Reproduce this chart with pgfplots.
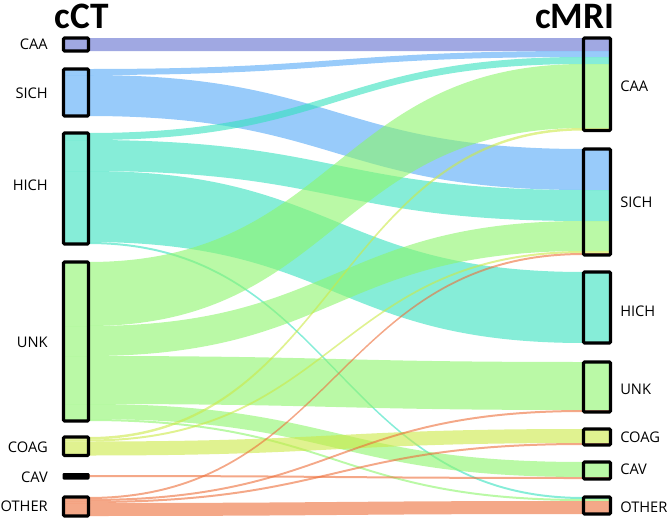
\documentclass[border=0pt]{standalone}
\usepackage{pgfplots}
\pgfplotsset{compat=1.18}
\usepackage{fontspec}
\setmainfont{Open Sans}
\newfontfamily\titlefont{Carlito}

\definecolor{cpurple}{RGB}{97,110,207}
\definecolor{cblue}{RGB}{83,168,247}
\definecolor{cteal}{RGB}{53,225,190}
\definecolor{cgreen}{RGB}{140,245,107}
\definecolor{cyellow}{RGB}{203,233,70}
\definecolor{corange}{RGB}{237,110,57}

% one link: left top, left bottom, right top, right bottom (pixel rows), colour
\newcommand{\flow}[5]{%
  \fill[#5, fill opacity=0.6] (axis cs:63.5,#1) -- (axis cs:88.5,#1)
    .. controls (axis cs:336,#1) and (axis cs:336,#3) .. (axis cs:583.5,#3)
    -- (axis cs:610.5,#3) -- (axis cs:610.5,#4) -- (axis cs:583.5,#4)
    .. controls (axis cs:336,#4) and (axis cs:336,#2) .. (axis cs:88.5,#2)
    -- (axis cs:63.5,#2) -- cycle;}
% node box: x left, x right, top, bottom
\newcommand{\nodebox}[4]{%
  \draw[black, line width=2.3pt, rounded corners=0.8pt] (axis cs:#1,#3) rectangle (axis cs:#2,#4);}

\begin{document}
\begin{tikzpicture}
\begin{axis}[name=ax, scale only axis, width=501.75pt, height=391.5pt,
  xmin=0, xmax=669, ymin=0, ymax=522, y dir=reverse, hide axis, clip=false]
  % links
  \flow{38}{51}{38}{51}{cpurple}
  \flow{69}{75}{51}{57}{cblue}
  \flow{75}{116}{149}{190}{cblue}
  \flow{133}{140}{57}{64}{cteal}
  \flow{140}{171}{190}{221}{cteal}
  \flow{171}{242}{272}{343}{cteal}
  \flow{242}{244}{497}{499}{cteal}
  \flow{262}{326}{64}{128}{cgreen}
  \flow{326}{356}{221}{251}{cgreen}
  \flow{356}{404}{362}{410}{cgreen}
  \flow{404}{419}{462}{477}{cgreen}
  \flow{419}{421}{499}{501}{cgreen}
  \flow{437}{439.5}{128}{130.5}{cyellow}
  \flow{439.5}{441.5}{251}{253}{cyellow}
  \flow{441.5}{455.5}{429}{443}{cyellow}
  \flow{475}{477}{477}{479}{corange}
  \flow{497}{499}{253}{255}{corange}
  \flow{499}{501}{410}{412}{corange}
  \flow{501}{503}{443}{445}{corange}
  \flow{503}{516}{501}{514}{corange}
  % left nodes
  \nodebox{63.5}{88.5}{38}{51}
  \nodebox{63.5}{88.5}{69}{116}
  \nodebox{63.5}{88.5}{133}{244}
  \nodebox{63.5}{88.5}{262}{421}
  \nodebox{63.5}{88.5}{437}{455.5}
  \fill[black, rounded corners=0.8pt] (axis cs:62.5,473) rectangle (axis cs:89.5,479.5);
  \nodebox{63.5}{88.5}{497}{516}
  % right nodes
  \nodebox{583.5}{610.5}{38}{130.5}
  \nodebox{583.5}{610.5}{149}{255}
  \nodebox{583.5}{610.5}{272}{343}
  \nodebox{583.5}{610.5}{362}{412}
  \nodebox{583.5}{610.5}{429}{445}
  \nodebox{583.5}{610.5}{462}{479}
  \nodebox{583.5}{610.5}{497}{514}
  % labels
  \begin{scope}[every node/.style={font=\fontsize{11}{13}\selectfont, inner sep=0pt}]
    \node[anchor=east] at (axis cs:48,44.5) {CAA};
    \node[anchor=east] at (axis cs:48,93) {SICH};
    \node[anchor=east] at (axis cs:48,185) {HICH};
    \node[anchor=east] at (axis cs:48,342) {UNK};
    \node[anchor=east] at (axis cs:48,447) {COAG};
    \node[anchor=east] at (axis cs:48,477) {CAV};
    \node[anchor=east] at (axis cs:48,506) {OTHER};
    \node[anchor=west] at (axis cs:620,86) {CAA};
    \node[anchor=west] at (axis cs:620,202) {SICH};
    \node[anchor=west] at (axis cs:620,311) {HICH};
    \node[anchor=west] at (axis cs:620,389) {UNK};
    \node[anchor=west] at (axis cs:620,437) {COAG};
    \node[anchor=west] at (axis cs:620,469) {CAV};
    \node[anchor=west] at (axis cs:620,507) {OTHER};
  \end{scope}
  \node[anchor=base, inner sep=0pt, font=\titlefont\bfseries\fontsize{28}{30}\selectfont] at (axis cs:82,28.5) {cCT};
  \node[anchor=base, inner sep=0pt, font=\titlefont\bfseries\fontsize{28}{30}\selectfont] at (axis cs:575,28.5) {cMRI};
\end{axis}
\pgfresetboundingbox
\path (ax.south west) rectangle (ax.north east);
\end{tikzpicture}
\end{document}
